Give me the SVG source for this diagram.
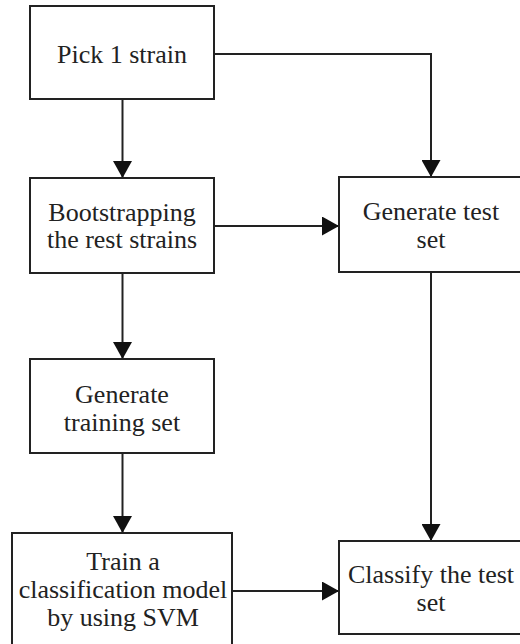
<svg xmlns="http://www.w3.org/2000/svg" width="520" height="644" viewBox="0 0 520 644" font-family="Liberation Serif, serif">
  <style>
    .box { fill: #fff; stroke: #222; stroke-width: 2; }
    .lbl { font-size: 26px; fill: #222; text-anchor: middle; }
    .conn { fill: none; stroke: #222; stroke-width: 2; }
  </style>
  <defs>
    <marker id="arr" markerUnits="userSpaceOnUse" markerWidth="18" markerHeight="19" refX="17" refY="9.5" orient="auto">
      <path d="M0,0 L17,9.5 L0,19 z" fill="#111"/>
    </marker>
  </defs>
  <rect width="520" height="644" fill="#fff"/>
  <g id="connectors">
    <path class="conn" d="M122.5,99 V178" marker-end="url(#arr)"/>
    <path class="conn" d="M214,54 H431 V177" marker-end="url(#arr)"/>
    <path class="conn" d="M214,226 H339" marker-end="url(#arr)"/>
    <path class="conn" d="M122.5,273 V359" marker-end="url(#arr)"/>
    <path class="conn" d="M122.5,453 V533" marker-end="url(#arr)"/>
    <path class="conn" d="M431,272 V541" marker-end="url(#arr)"/>
    <path class="conn" d="M232,591 H339" marker-end="url(#arr)"/>
  </g>
  <g id="pick">
    <rect class="box" x="30" y="6" width="184" height="93"/>
    <text class="lbl" x="122" y="63" font-family="Liberation Serif, serif">Pick 1 strain</text>
  </g>
  <g id="bootstrap">
    <rect class="box" x="30" y="178" width="184" height="95"/>
    <text class="lbl" x="122" y="221" font-family="Liberation Serif, serif">Bootstrapping</text>
    <text class="lbl" x="122" y="248" font-family="Liberation Serif, serif">the rest strains</text>
  </g>
  <g id="gentrain">
    <rect class="box" x="30" y="359" width="184" height="94"/>
    <text class="lbl" x="122" y="403" font-family="Liberation Serif, serif">Generate</text>
    <text class="lbl" x="122" y="431" font-family="Liberation Serif, serif">training set</text>
  </g>
  <g id="train">
    <rect class="box" x="12" y="533" width="220" height="125"/>
    <text class="lbl" x="123" y="570" font-family="Liberation Serif, serif">Train a</text>
    <text class="lbl" x="123" y="598" font-family="Liberation Serif, serif">classification model</text>
    <text class="lbl" x="123" y="626" font-family="Liberation Serif, serif">by using SVM</text>
  </g>
  <g id="gentest">
    <rect class="box" x="339" y="177" width="195" height="95"/>
    <text class="lbl" x="431" y="220" font-family="Liberation Serif, serif">Generate test</text>
    <text class="lbl" x="431" y="248" font-family="Liberation Serif, serif">set</text>
  </g>
  <g id="classify">
    <rect class="box" x="339" y="541" width="195" height="93"/>
    <text class="lbl" x="431" y="583" font-family="Liberation Serif, serif">Classify the test</text>
    <text class="lbl" x="431" y="611" font-family="Liberation Serif, serif">set</text>
  </g>
</svg>
